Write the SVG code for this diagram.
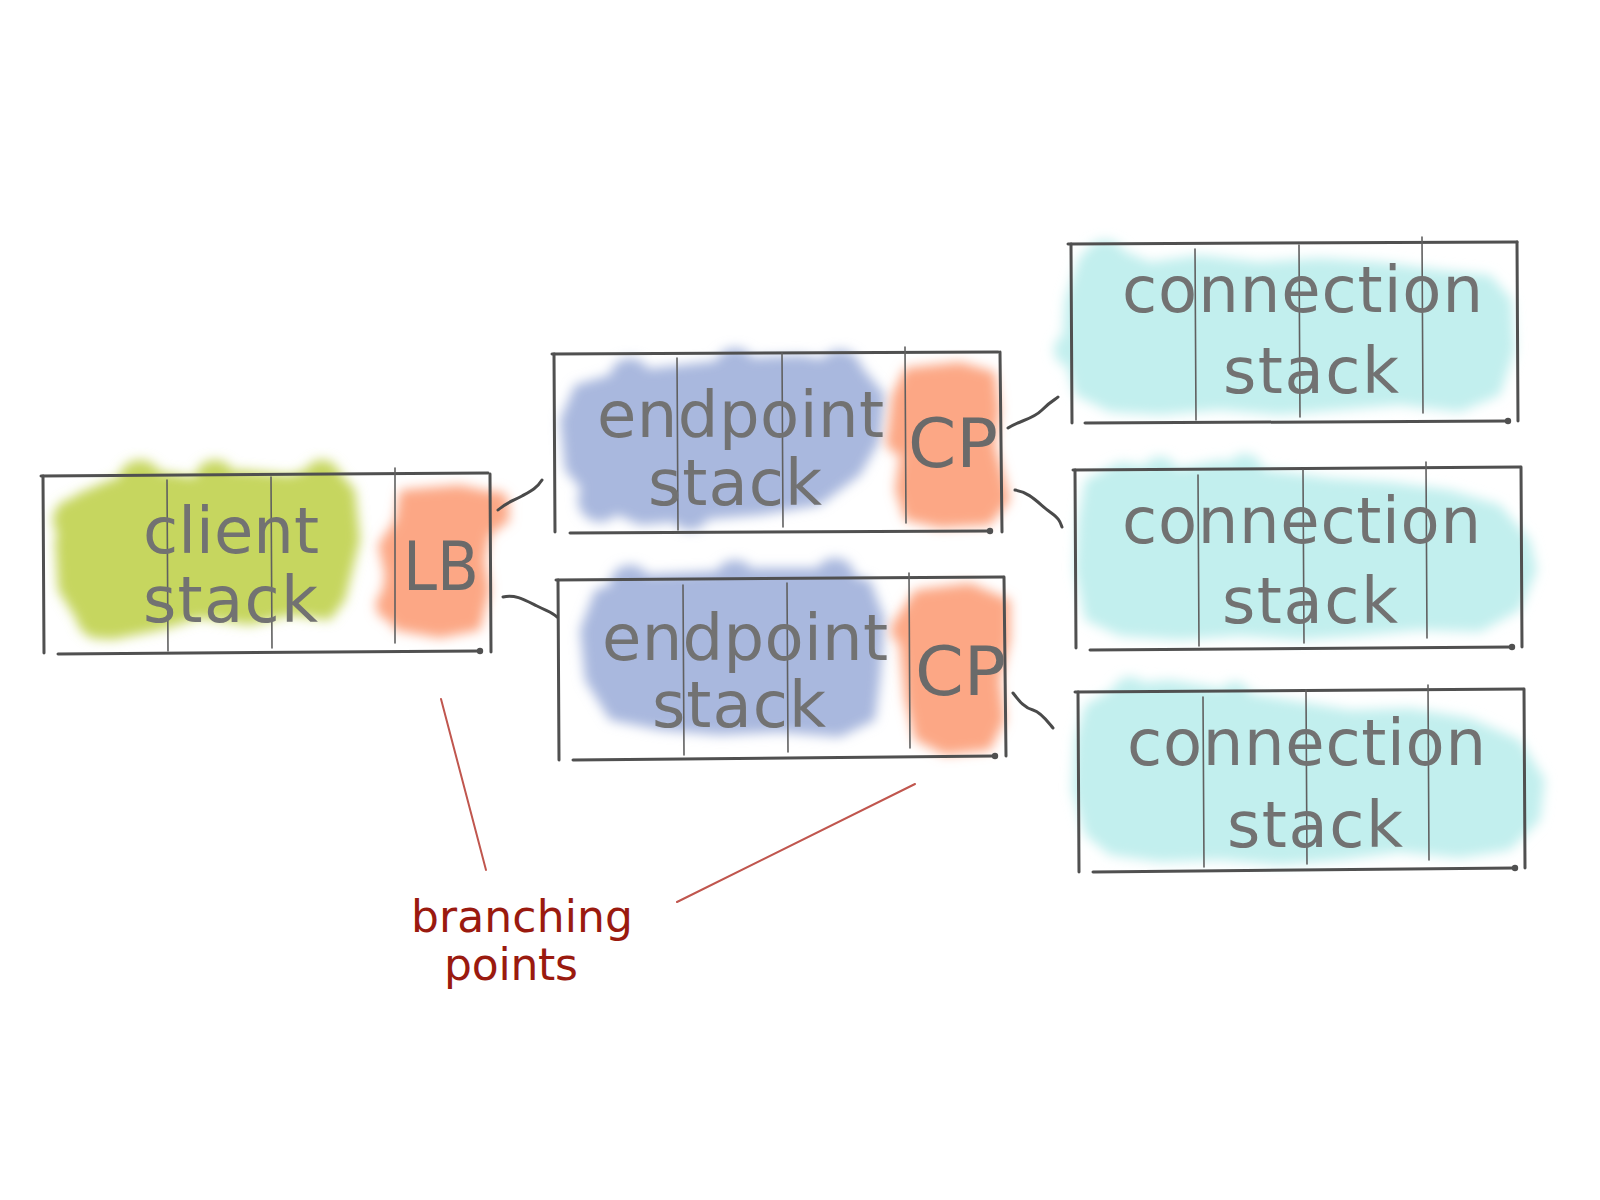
<svg xmlns="http://www.w3.org/2000/svg" width="1600" height="1200" viewBox="0 0 1600 1200">
<defs>
<filter id="soft" x="-10%" y="-10%" width="120%" height="120%"><feGaussianBlur stdDeviation="6"/></filter>
<style>
.frame{stroke:#505050;stroke-width:3;stroke-linecap:round;fill:none}
.div{stroke:#606060;stroke-width:1.6;stroke-linecap:round;fill:none}
.dot{fill:#505050}
.lbl{font-family:"DejaVu Sans","Noto Sans",sans-serif;font-size:64px;fill:#727272}
.big{font-family:"DejaVu Sans","Noto Sans",sans-serif;font-size:68px;fill:#6a6a6a}
.green{fill:#c6d65e}
.blue{fill:#a9b8de}
.orange{fill:#fca785}
.cyan{fill:#c2efee}
.conn{stroke:#4a4a4a;stroke-width:3;stroke-linecap:round;fill:none}
.note{stroke:#c0564e;stroke-width:2;stroke-linecap:round;fill:none}
.notetext{font-family:"DejaVu Sans","Noto Sans",sans-serif;font-size:44px;fill:#9a1a0f}
</style>
</defs>
<rect width="1600" height="1200" fill="#ffffff"/>

<g id="client-stack">
<g class="green" filter="url(#soft)">
<path d="M75,495 L110,480 L150,470 L200,478 L240,470 L290,475 L330,462 L355,490 L360,540 L345,600 L330,620 L290,615 L250,625 L200,618 L160,630 L110,640 L80,625 L58,590 L55,540 Z"/>
<circle cx="140" cy="482" r="22"/><circle cx="215" cy="480" r="20"/><circle cx="322" cy="478" r="18"/><circle cx="100" cy="615" r="24"/><circle cx="75" cy="520" r="22"/>
</g>
<g class="orange" filter="url(#soft)">
<path d="M400,490 L460,485 L505,495 L510,520 L490,535 L485,560 L490,590 L480,630 L440,638 L395,630 L380,605 L385,575 L378,545 L395,520 Z"/>
<circle cx="495" cy="505" r="14"/><circle cx="392" cy="605" r="16"/>
</g>
<line class="frame" x1="41" y1="476" x2="488" y2="473"/>
<line class="frame" x1="43" y1="476" x2="44" y2="653"/>
<line class="frame" x1="58" y1="654" x2="480" y2="651"/>
<circle class="dot" cx="480" cy="651" r="3.2"/>
<line class="frame" x1="490" y1="474" x2="491" y2="652"/>
<line class="div" x1="167" y1="480" x2="168" y2="651"/>
<line class="div" x1="271" y1="477" x2="272" y2="648"/>
<line class="div" x1="395" y1="468" x2="395" y2="643"/>
<text class="lbl" x="143" y="553" textLength="176" lengthAdjust="spacing">client</text>
<text class="lbl" x="143" y="622" textLength="175" lengthAdjust="spacing">stack</text>
<text class="big" x="403" y="590" textLength="76" lengthAdjust="spacingAndGlyphs">LB</text>
</g>

<g id="endpoint-stack-1">
<g class="blue" filter="url(#soft)">
<path d="M575,385 L620,372 L680,365 L740,358 L800,355 L860,365 L885,395 L880,440 L860,475 L820,505 L760,515 L700,520 L640,525 L595,505 L565,470 L560,420 Z"/>
<circle cx="630" cy="378" r="20"/><circle cx="735" cy="368" r="20"/><circle cx="840" cy="372" r="22"/><circle cx="600" cy="500" r="22"/><circle cx="690" cy="510" r="20"/>
</g>
<g class="orange" filter="url(#soft)">
<path d="M905,368 L960,362 L995,372 L1000,410 L995,445 L1005,480 L1010,500 L990,525 L940,528 L905,520 L895,490 L900,455 L888,430 L892,395 Z"/>
<circle cx="900" cy="440" r="14"/>
</g>
<line class="frame" x1="552" y1="354" x2="998" y2="352"/>
<line class="frame" x1="554" y1="354" x2="555" y2="532"/>
<line class="frame" x1="570" y1="533" x2="990" y2="531"/>
<circle class="dot" cx="990" cy="531" r="3.2"/>
<line class="frame" x1="1000" y1="352" x2="1002" y2="532"/>
<line class="div" x1="677" y1="358" x2="678" y2="530"/>
<line class="div" x1="782" y1="353" x2="783" y2="527"/>
<line class="div" x1="905" y1="347" x2="906" y2="523"/>
<text class="lbl" x="597" y="437" textLength="287" lengthAdjust="spacing">endpoint</text>
<text class="lbl" x="648" y="505" textLength="174" lengthAdjust="spacing">stack</text>
<text class="big" x="908" y="467" textLength="90" lengthAdjust="spacingAndGlyphs">CP</text>
</g>

<g id="endpoint-stack-2">
<g class="blue" filter="url(#soft)">
<path d="M595,590 L640,575 L700,572 L760,568 L820,568 L870,580 L885,620 L880,680 L875,720 L840,737 L780,732 L720,735 L660,730 L610,720 L585,680 L580,630 Z"/>
<circle cx="630" cy="585" r="20"/><circle cx="735" cy="580" r="20"/><circle cx="835" cy="578" r="20"/>
</g>
<g class="orange" filter="url(#soft)">
<path d="M915,590 L970,583 L1010,600 L1010,640 L1000,680 L1005,720 L990,750 L945,755 L915,740 L905,700 L900,650 L895,620 Z"/>
<circle cx="905" cy="630" r="14"/>
</g>
<line class="frame" x1="556" y1="580" x2="1003" y2="577"/>
<line class="frame" x1="558" y1="580" x2="559" y2="760"/>
<line class="frame" x1="573" y1="760" x2="995" y2="756"/>
<circle class="dot" cx="995" cy="756" r="3.2"/>
<line class="frame" x1="1004" y1="577" x2="1006" y2="756"/>
<line class="div" x1="683" y1="585" x2="684" y2="755"/>
<line class="div" x1="787" y1="583" x2="788" y2="752"/>
<line class="div" x1="909" y1="573" x2="910" y2="748"/>
<text class="lbl" x="602" y="660" textLength="286" lengthAdjust="spacing">endpoint</text>
<text class="lbl" x="652" y="727" textLength="174" lengthAdjust="spacing">stack</text>
<text class="big" x="915" y="695" textLength="91" lengthAdjust="spacingAndGlyphs">CP</text>
</g>

<g id="connection-stack-1">
<g class="cyan" filter="url(#soft)">
<path d="M1080,255 L1110,245 L1150,262 L1200,255 L1260,262 L1320,258 L1380,262 L1440,270 L1490,275 L1512,300 L1515,350 L1500,395 L1460,412 L1400,405 L1340,410 L1280,415 L1220,410 L1160,415 L1110,412 L1075,395 L1062,350 L1065,300 Z"/>
<circle cx="1105" cy="262" r="22"/><circle cx="1070" cy="350" r="16"/>
</g>
<line class="frame" x1="1068" y1="244" x2="1517" y2="242"/>
<line class="frame" x1="1071" y1="244" x2="1072" y2="423"/>
<line class="frame" x1="1085" y1="423" x2="1508" y2="421"/>
<circle class="dot" cx="1508" cy="421" r="3.2"/>
<line class="frame" x1="1517" y1="242" x2="1518" y2="421"/>
<line class="div" x1="1195" y1="249" x2="1196" y2="420"/>
<line class="div" x1="1299" y1="245" x2="1300" y2="417"/>
<line class="div" x1="1422" y1="237" x2="1423" y2="413"/>
<text class="lbl" x="1122" y="312" textLength="361" lengthAdjust="spacing">connection</text>
<text class="lbl" x="1223" y="393" textLength="176" lengthAdjust="spacing">stack</text>
</g>

<g id="connection-stack-2">
<g class="cyan" filter="url(#soft)">
<path d="M1085,480 L1120,462 L1170,470 L1220,460 L1270,470 L1330,478 L1390,482 L1450,490 L1500,505 L1530,540 L1537,570 L1520,610 L1480,632 L1420,630 L1360,636 L1300,640 L1240,636 L1180,640 L1120,636 L1085,620 L1075,570 L1078,520 Z"/>
<circle cx="1160" cy="475" r="18"/><circle cx="1245" cy="472" r="18"/>
</g>
<line class="frame" x1="1073" y1="470" x2="1520" y2="467"/>
<line class="frame" x1="1075" y1="470" x2="1076" y2="648"/>
<line class="frame" x1="1090" y1="650" x2="1512" y2="647"/>
<circle class="dot" cx="1512" cy="647" r="3.2"/>
<line class="frame" x1="1521" y1="467" x2="1522" y2="647"/>
<line class="div" x1="1198" y1="475" x2="1199" y2="646"/>
<line class="div" x1="1303" y1="470" x2="1304" y2="643"/>
<line class="div" x1="1426" y1="462" x2="1427" y2="638"/>
<text class="lbl" x="1122" y="543" textLength="359" lengthAdjust="spacing">connection</text>
<text class="lbl" x="1222" y="623" textLength="176" lengthAdjust="spacing">stack</text>
</g>

<g id="connection-stack-3">
<g class="cyan" filter="url(#soft)">
<path d="M1085,705 L1120,685 L1170,680 L1230,690 L1290,700 L1350,710 L1410,708 L1470,718 L1520,740 L1545,780 L1540,820 L1510,850 L1460,858 L1400,852 L1340,860 L1280,865 L1220,860 L1160,862 L1110,855 L1085,835 L1072,790 L1075,740 Z"/>
<circle cx="1130" cy="695" r="18"/><circle cx="1235" cy="698" r="16"/>
</g>
<line class="frame" x1="1075" y1="692" x2="1523" y2="689"/>
<line class="frame" x1="1078" y1="692" x2="1079" y2="872"/>
<line class="frame" x1="1093" y1="872" x2="1515" y2="868"/>
<circle class="dot" cx="1515" cy="868" r="3.2"/>
<line class="frame" x1="1524" y1="689" x2="1525" y2="868"/>
<line class="div" x1="1203" y1="697" x2="1204" y2="867"/>
<line class="div" x1="1306" y1="690" x2="1307" y2="864"/>
<line class="div" x1="1428" y1="685" x2="1429" y2="860"/>
<text class="lbl" x="1127" y="765" textLength="359" lengthAdjust="spacing">connection</text>
<text class="lbl" x="1227" y="847" textLength="176" lengthAdjust="spacing">stack</text>
</g>

<g id="connectors">
<path class="conn" d="M498,510 C507,502 513,501 522,496 S537,488 542,480"/>
<path class="conn" d="M503,597 C515,594 525,600 537,606 S552,612 557,617"/>
<path class="conn" d="M1008,428 C1020,420 1032,420 1042,410 S1055,400 1058,397"/>
<path class="conn" d="M1015,490 C1030,492 1040,505 1050,512 S1060,522 1062,527"/>
<path class="conn" d="M1013,693 C1020,702 1025,708 1033,710 S1048,722 1053,728"/>
</g>

<g id="branching-points">
<line class="note" x1="441" y1="699" x2="486" y2="870"/>
<line class="note" x1="915" y1="784" x2="677" y2="902"/>
<text class="notetext" x="411" y="932" textLength="222" lengthAdjust="spacing">branching</text>
<text class="notetext" x="444" y="980" textLength="134" lengthAdjust="spacing">points</text>
</g>
</svg>
